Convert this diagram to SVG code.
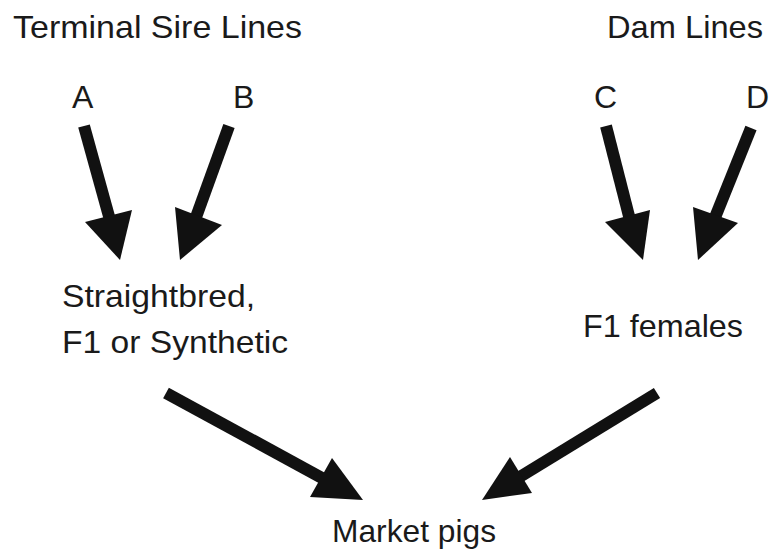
<svg xmlns="http://www.w3.org/2000/svg" width="772" height="551" viewBox="0 0 772 551">
<style>
text{font-family:"Liberation Sans",Arial,sans-serif;font-size:32px;fill:#1a1a1a}
.shaft{stroke:#111;stroke-width:12;fill:none}
.head{fill:#111}
</style>
<rect width="772" height="551" fill="#fff"/>
<g id="title-sire"><text x="13" y="38" textLength="289" lengthAdjust="spacingAndGlyphs">Terminal Sire Lines</text></g>
<g id="title-dam"><text x="607" y="38" textLength="156" lengthAdjust="spacingAndGlyphs">Dam Lines</text></g>
<g id="node-A"><text x="72" y="108">A</text></g>
<g id="node-B"><text x="233" y="108">B</text></g>
<g id="node-C"><text x="594" y="108">C</text></g>
<g id="node-D"><text x="746" y="108">D</text></g>
<g id="node-sire"><text x="62" y="307" textLength="193" lengthAdjust="spacingAndGlyphs">Straightbred,</text><text x="62" y="353" textLength="226" lengthAdjust="spacingAndGlyphs">F1 or Synthetic</text></g>
<g id="node-f1"><text x="583" y="337" textLength="160" lengthAdjust="spacingAndGlyphs">F1 females</text></g>
<g id="node-market"><text x="332" y="542" textLength="164" lengthAdjust="spacingAndGlyphs">Market pigs</text></g>
<g id="connectors">
<line class="shaft" x1="84" y1="126" x2="110" y2="220"/><polygon class="head" points="85,222 132,210 120,260"/>
<line class="shaft" x1="229" y1="126" x2="195" y2="220"/><polygon class="head" points="175,207 222,225 180,260"/>
<line class="shaft" x1="606" y1="126" x2="630" y2="220"/><polygon class="head" points="605,222 650,210 643,260"/>
<line class="shaft" x1="751" y1="128" x2="714" y2="220"/><polygon class="head" points="693,207 738,223 698,260"/>
<line class="shaft" x1="166" y1="393" x2="322" y2="478"/><polygon class="head" points="310,497 332,458 363,500"/>
<line class="shaft" x1="657" y1="393" x2="518" y2="478"/><polygon class="head" points="510,457 532,493 482,500"/>
</g>
</svg>
